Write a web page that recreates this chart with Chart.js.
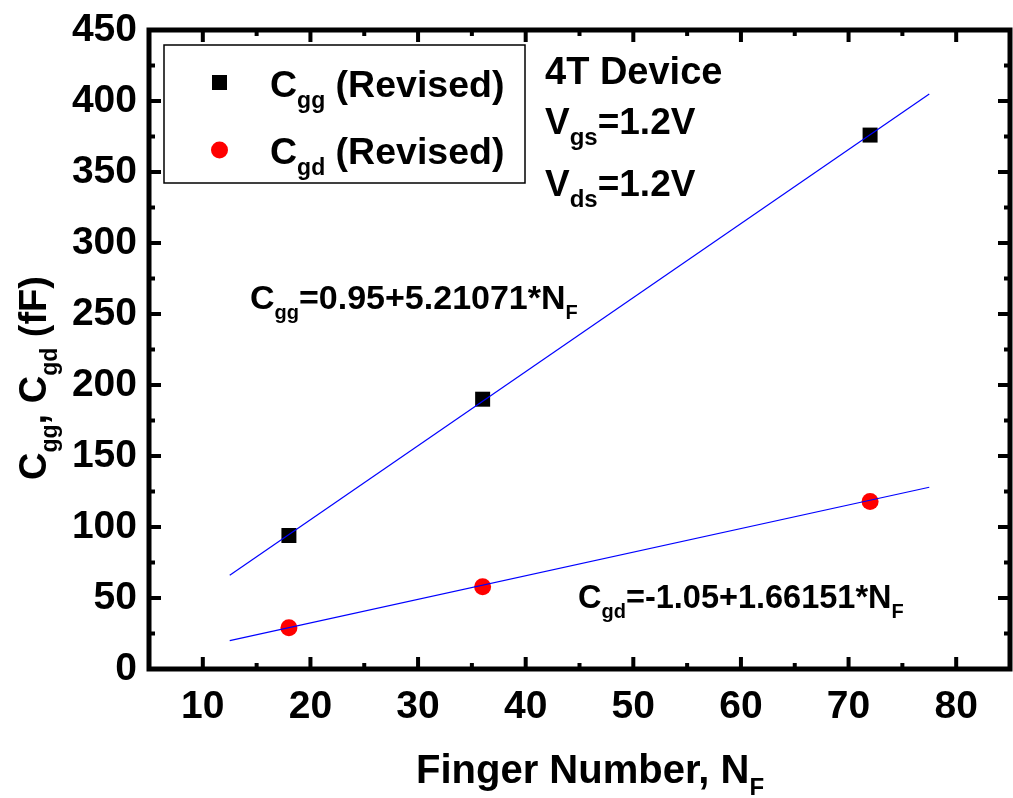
<!DOCTYPE html>
<html lang="en">
<head>
    <meta charset="UTF-8">
    <title>Cgg, Cgd vs Finger Number</title>
    <script src="https://cdnjs.cloudflare.com/ajax/libs/Chart.js/4.4.1/chart.umd.min.js"></script>
    <style>
        * { margin: 0; padding: 0; box-sizing: border-box; }
        body { background: #fff; width: 1013px; height: 798px; overflow: hidden; }
        #wrap { position: relative; width: 1013px; height: 798px; }
    </style>
</head>
<body>
    <div id="wrap"><canvas id="chart" width="1013" height="798"></canvas></div>

    <script>
        // measured data
        const fingerNumbers = [18, 36, 72];
        const cggValues = [94, 190, 376];
        const cgdValues = [29, 58, 118];

        // fit line end points
        const fitX = [12.5, 77.5];
        const cggFitY = [66, 405];
        const cgdFitY = [20, 128];

        const xTicks = [10, 20, 30, 40, 50, 60, 70, 80];
        const yTicks = [0, 50, 100, 150, 200, 250, 300, 350, 400, 450];

        const FONT = '"Liberation Sans", Arial, sans-serif';

        const toPoints = (xs, ys) => xs.map((x, i) => ({ x: x, y: ys[i] }));

        // draws text made of plain / subscript parts
        function drawRich(ctx, parts, x, y, size, subSize) {
            ctx.textBaseline = 'alphabetic';
            ctx.textAlign = 'left';
            let cx = x;
            parts.forEach(p => {
                if (p.sub) {
                    ctx.font = 'bold ' + subSize + 'px ' + FONT;
                    ctx.fillText(p.t, cx, y + size * 0.3);
                } else {
                    ctx.font = 'bold ' + size + 'px ' + FONT;
                    ctx.fillText(p.t, cx, y);
                }
                cx += ctx.measureText(p.t).width;
            });
            return cx - x;
        }

        function richWidth(ctx, parts, size, subSize) {
            let w = 0;
            parts.forEach(p => {
                ctx.font = 'bold ' + (p.sub ? subSize : size) + 'px ' + FONT;
                w += ctx.measureText(p.t).width;
            });
            return w;
        }

        const framePlugin = {
            id: 'frame',
            afterDraw(chart) {
                const ctx = chart.ctx;
                const a = chart.chartArea;
                const xs = chart.scales.x, ys = chart.scales.y;
                ctx.save();
                ctx.strokeStyle = '#000';
                ctx.fillStyle = '#000';

                // minor + major ticks, pointing inwards on all four sides
                ctx.lineWidth = 4;
                ctx.beginPath();
                for (let v = 5; v <= 85; v += 5) {
                    const px = xs.getPixelForValue(v);
                    if (px <= a.left + 2 || px >= a.right - 2) continue;
                    const len = v % 10 === 0 ? 12 : 6;
                    ctx.moveTo(px, a.bottom); ctx.lineTo(px, a.bottom - len);
                    ctx.moveTo(px, a.top); ctx.lineTo(px, a.top + len);
                }
                for (let v = 0; v <= 450; v += 25) {
                    const py = ys.getPixelForValue(v);
                    if (py <= a.top + 2 || py >= a.bottom - 2) continue;
                    const len = v % 50 === 0 ? 12 : 6;
                    ctx.moveTo(a.left, py); ctx.lineTo(a.left + len, py);
                    ctx.moveTo(a.right, py); ctx.lineTo(a.right - len, py);
                }
                ctx.stroke();

                ctx.lineWidth = 5;
                ctx.strokeRect(a.left, a.top, a.right - a.left, a.bottom - a.top);

                // legend box
                ctx.lineWidth = 1.5;
                ctx.fillStyle = '#fff';
                ctx.fillRect(164, 45, 361, 138);
                ctx.strokeRect(164, 45, 361, 138);
                ctx.fillStyle = '#000';
                ctx.fillRect(212, 75, 15, 15);
                ctx.fillStyle = '#ff0000';
                ctx.beginPath();
                ctx.arc(219.5, 150, 8.5, 0, Math.PI * 2);
                ctx.fill();
                ctx.fillStyle = '#000';
                drawRich(ctx, [{ t: 'C' }, { t: 'gg', sub: true }, { t: ' (Revised)' }], 270, 97, 37.5, 23);
                drawRich(ctx, [{ t: 'C' }, { t: 'gd', sub: true }, { t: ' (Revised)' }], 270, 164, 37.5, 23);

                // condition notes
                drawRich(ctx, [{ t: '4T Device' }], 545, 84, 38, 24);
                drawRich(ctx, [{ t: 'V' }, { t: 'gs', sub: true }, { t: '=1.2V' }], 545, 134, 37, 24);
                drawRich(ctx, [{ t: 'V' }, { t: 'ds', sub: true }, { t: '=1.2V' }], 545, 196, 37, 24);

                // fit equations
                drawRich(ctx, [{ t: 'C' }, { t: 'gg', sub: true }, { t: '=0.95+5.21071*N' }, { t: 'F', sub: true }], 250, 309, 34, 20);
                drawRich(ctx, [{ t: 'C' }, { t: 'gd', sub: true }, { t: '=-1.05+1.66151*N' }, { t: 'F', sub: true }], 578, 608, 32.5, 20);

                // x axis title
                const xt = [{ t: 'Finger Number, N' }, { t: 'F', sub: true }];
                drawRich(ctx, xt, 416, 783, 40, 24);

                // y axis title, rotated
                const yt = [{ t: 'C' }, { t: 'gg', sub: true }, { t: ', C' }, { t: 'gd', sub: true }, { t: ' (fF)' }];
                const yw = richWidth(ctx, yt, 38, 23);
                ctx.translate(46, 378);
                ctx.rotate(-Math.PI / 2);
                drawRich(ctx, yt, -yw / 2, 0, 38, 23);
                ctx.restore();
            }
        };

        new Chart(document.getElementById('chart'), {
            type: 'scatter',
            data: {
                datasets: [
                    {
                        label: 'Cgg fit',
                        data: toPoints(fitX, cggFitY),
                        showLine: true,
                        borderColor: '#0000ff',
                        borderWidth: 1.2,
                        pointRadius: 0
                    },
                    {
                        label: 'Cgd fit',
                        data: toPoints(fitX, cgdFitY),
                        showLine: true,
                        borderColor: '#0000ff',
                        borderWidth: 1.2,
                        pointRadius: 0
                    },
                    {
                        label: 'Cgg (Revised)',
                        data: toPoints(fingerNumbers, cggValues),
                        pointStyle: 'rect',
                        pointRadius: 10.6,
                        backgroundColor: '#000',
                        borderColor: '#000',
                        borderWidth: 0
                    },
                    {
                        label: 'Cgd (Revised)',
                        data: toPoints(fingerNumbers, cgdValues),
                        pointStyle: 'circle',
                        pointRadius: 8.5,
                        backgroundColor: '#ff0000',
                        borderColor: '#ff0000',
                        borderWidth: 0
                    }
                ]
            },
            options: {
                responsive: false,
                animation: false,
                devicePixelRatio: 1,
                layout: { autoPadding: false, padding: { left: 0, top: 30, right: 3, bottom: 0 } },
                plugins: {
                    legend: { display: false },
                    tooltip: { enabled: false }
                },
                scales: {
                    x: {
                        type: 'linear',
                        min: 5,
                        max: 85,
                        afterBuildTicks: s => { s.ticks = xTicks.map(v => ({ value: v })); },
                        afterFit: s => {
                            s.height = 129;
                            s.paddingLeft = 0;
                            s.paddingRight = 0;
                        },
                        grid: { display: false, drawTicks: false },
                        border: { display: false },
                        ticks: {
                            color: '#000',
                            padding: 15,
                            font: { family: FONT, size: 39, weight: 'bold' }
                        }
                    },
                    y: {
                        type: 'linear',
                        min: 0,
                        max: 450,
                        afterBuildTicks: s => { s.ticks = yTicks.map(v => ({ value: v })); },
                        afterFit: s => {
                            s.width = 149;
                            s.paddingTop = 0;
                            s.paddingBottom = 0;
                        },
                        grid: { display: false, drawTicks: false },
                        border: { display: false },
                        ticks: {
                            color: '#000',
                            padding: 12,
                            font: { family: FONT, size: 39, weight: 'bold' }
                        }
                    }
                }
            },
            plugins: [framePlugin]
        });
    </script>
</body>
</html>
